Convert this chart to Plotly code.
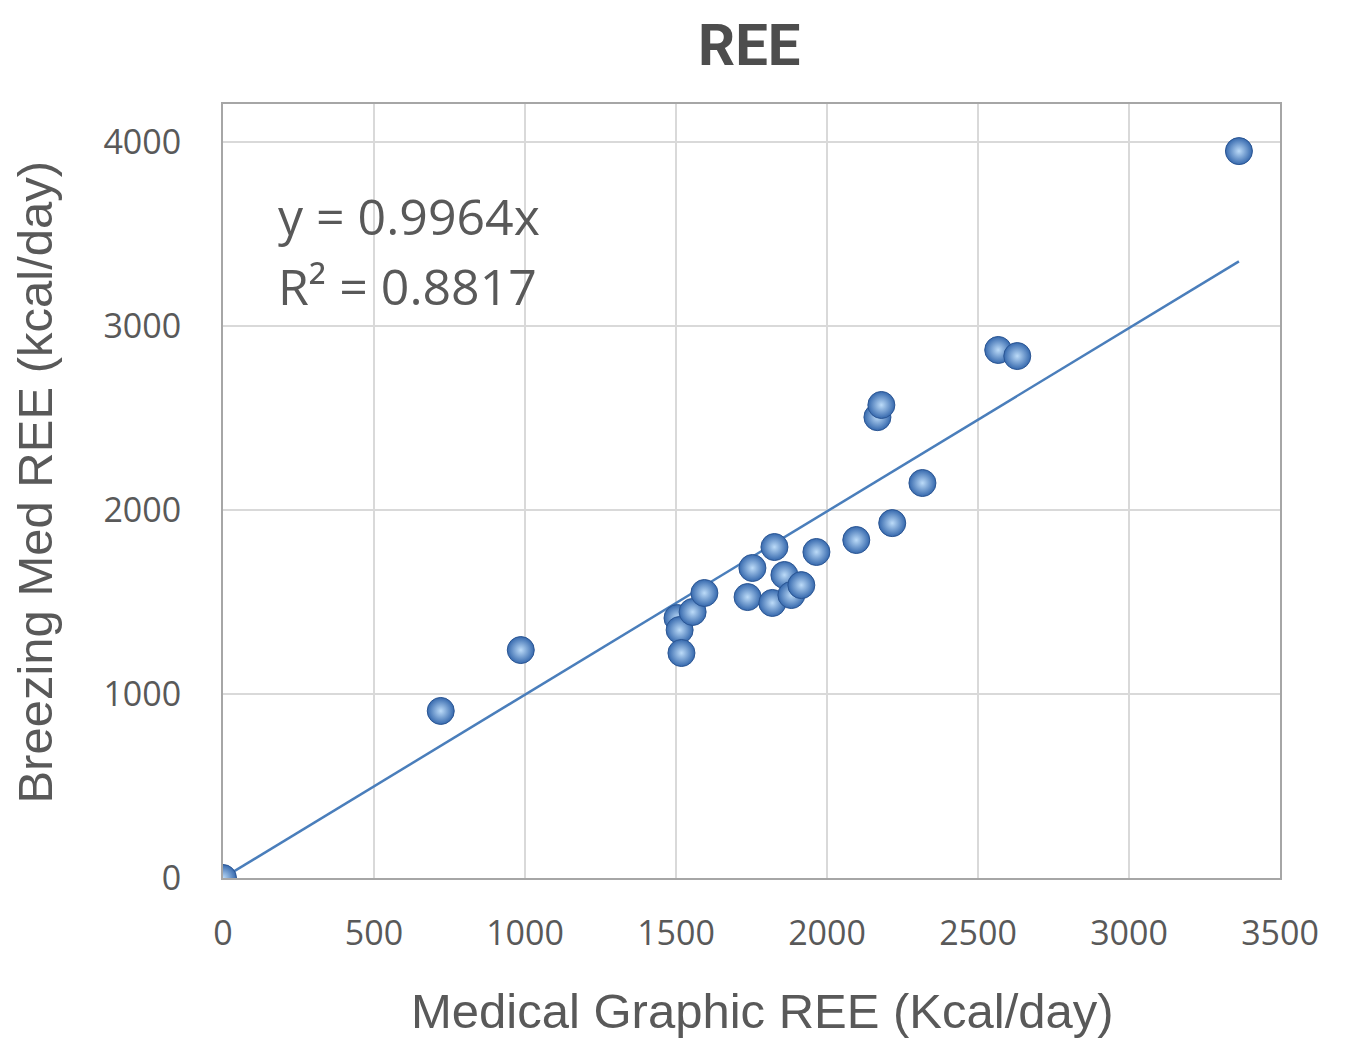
import plotly.graph_objects as go

# Data
medical_graphic_ree = [0, 721, 986, 1505, 1512, 1518, 1555, 1594, 1737, 1753, 1819, 1826,
                       1859, 1882, 1915, 1965, 2097, 2167, 2180, 2216, 2316, 2567, 2630, 3364]
breezing_med_ree = [0, 908, 1239, 1413, 1348, 1223, 1446, 1549, 1527, 1685, 1495, 1799,
                    1647, 1538, 1592, 1772, 1837, 2505, 2571, 1929, 2147, 2870, 2837, 3951]
slope = 0.9964
r_squared = 0.8817
x_ticks = [0, 500, 1000, 1500, 2000, 2500, 3000, 3500]
y_ticks = [0, 1000, 2000, 3000, 4000]

trend_x = [0, max(medical_graphic_ree)]
trend_y = [slope * v for v in trend_x]

fig = go.Figure()
fig.add_trace(go.Scatter(
    x=trend_x, y=trend_y, mode="lines",
    line=dict(color="#4a7ebb", width=2.5),
    hoverinfo="skip", showlegend=False,
))
fig.add_trace(go.Scatter(
    x=medical_graphic_ree, y=breezing_med_ree, mode="markers",
    marker=dict(size=27, color="#3568ad",
                gradient=dict(type="radial", color="#bcdbf8"),
                line=dict(color="#2a5593", width=1)),
    showlegend=False,
))

tick_font = dict(family="Open Sans, Lato, sans-serif", size=34, color="#595959")
title_font = dict(family="Liberation Sans, Arial, sans-serif", size=49, color="#595959")

fig.update_layout(
    width=1329, height=1033,
    margin=dict(l=215, r=57, t=96, b=163),
    paper_bgcolor="white", plot_bgcolor="white",
    xaxis=dict(range=[0, 3500], tickvals=x_ticks, ticktext=[str(v) for v in x_ticks],
               showgrid=True, gridcolor="#d9d9d9", gridwidth=2,
               showline=True, linecolor="#a6a6a6", linewidth=2, mirror=True,
               zeroline=False, ticks="", tickfont=tick_font, ticklabelstandoff=24),
    yaxis=dict(range=[0, 4207], tickvals=y_ticks, ticktext=[str(v) for v in y_ticks],
               showgrid=True, gridcolor="#d9d9d9", gridwidth=2,
               showline=True, linecolor="#a6a6a6", linewidth=2, mirror=True,
               zeroline=False, ticks="", tickfont=tick_font, ticklabelstandoff=33),
    annotations=[
        dict(text="<b>REE</b>", xref="paper", yref="paper", x=0.498, y=1.123,
             xanchor="center", yanchor="top", showarrow=False,
             font=dict(family="Roboto, sans-serif", size=58, color="#4d4d4d")),
        dict(text=f"y = {slope}x", xref="paper", yref="paper", x=0.05, y=0.855,
             xanchor="left", yanchor="middle", showarrow=False,
             font=dict(family="Open Sans, sans-serif", size=50, color="#595959")),
        dict(text=f"R² = {r_squared}", xref="paper", yref="paper", x=0.05, y=0.765,
             xanchor="left", yanchor="middle", showarrow=False,
             font=dict(family="Open Sans, sans-serif", size=50, color="#595959")),
        dict(text="Medical Graphic REE (Kcal/day)", xref="paper", yref="paper",
             x=0.51, y=-0.172, xanchor="center", yanchor="middle", showarrow=False,
             font=title_font),
        dict(text="Breezing Med REE (kcal/day)", xref="paper", yref="paper",
             x=-0.178, y=0.512, xanchor="center", yanchor="middle", showarrow=False,
             textangle=-90, font=title_font),
    ],
)

fig.write_html("out.html")
